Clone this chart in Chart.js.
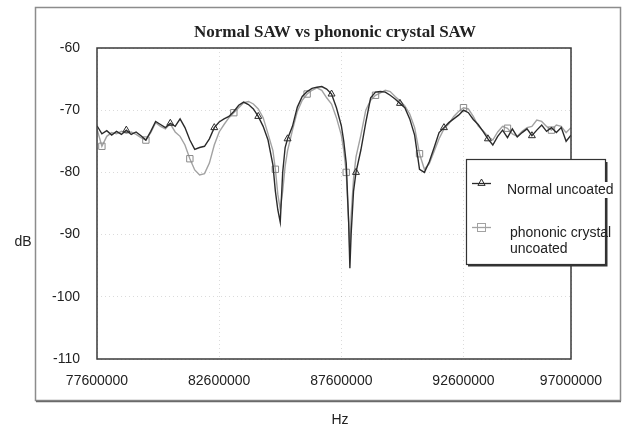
<!DOCTYPE html>
<html>
<head>
<meta charset="utf-8">
<script src="https://cdn.jsdelivr.net/npm/chart.js@4"></script>
<style>
  body { margin: 0; background: #fff; }
  #wrap { width: 623px; height: 425px; }
</style>
</head>
<body>
<div id="wrap"><canvas id="sawChart" width="623" height="425"></canvas></div>
<script>
// frequency in MHz, shared by both series
const freqMHz = [
  77.6, 77.8, 78.0, 78.2, 78.4, 78.6, 78.8, 79.0, 79.2, 79.4,
  79.6, 79.8, 80.0, 80.2, 80.4, 80.6, 80.8, 81.0, 81.2, 81.4,
  81.6, 81.8, 82.0, 82.2, 82.4, 82.6, 82.8, 83.0, 83.2, 83.4,
  83.6, 83.8, 84.0, 84.2, 84.4, 84.6, 84.8, 84.9, 85.0, 85.1,
  85.2, 85.3, 85.4, 85.6, 85.8, 86.0, 86.2, 86.4, 86.6, 86.8,
  87.0, 87.2, 87.4, 87.6, 87.7, 87.8, 87.9, 87.95, 88.0, 88.1,
  88.2, 88.4, 88.6, 88.8, 89.0, 89.2, 89.4, 89.6, 89.8, 90.0,
  90.2, 90.4, 90.6, 90.8, 91.0, 91.2, 91.4, 91.6, 91.8, 92.0,
  92.2, 92.4, 92.6, 92.8, 93.0, 93.2, 93.4, 93.6, 93.8, 94.0,
  94.2, 94.4, 94.6, 94.8, 95.0, 95.2, 95.4, 95.6, 95.8, 96.0,
  96.2, 96.4, 96.6, 96.8, 97.0
];

const normalDb = [
  -72.5, -73.8, -73.3, -74.0, -73.4, -73.9, -73.2, -73.9, -73.5, -74.1,
  -74.8, -73.4, -71.8, -72.3, -72.8, -72.1, -72.6, -71.4, -72.8, -74.8,
  -76.3, -76.0, -75.8, -74.6, -72.8, -71.9, -71.4, -71.0, -70.2, -69.2,
  -68.7, -69.1, -69.8, -71.0, -72.6, -74.8, -78.8, -83.0, -86.0, -88.0,
  -80.0, -76.0, -74.6, -72.6, -69.5, -67.8, -67.0, -66.5, -66.3, -66.2,
  -66.6, -67.4, -69.6, -72.5, -75.0, -78.5, -88.0, -95.4, -90.0, -83.0,
  -80.0, -76.4, -72.0, -68.0, -67.1, -67.0, -67.1, -67.6, -68.2, -68.9,
  -69.6, -71.4, -74.0, -79.5, -80.0, -78.3, -76.0, -73.6, -72.8, -72.0,
  -71.4, -70.8, -70.0, -70.4, -71.5, -72.3, -73.4, -74.6, -75.6, -74.2,
  -73.2, -74.4, -73.0, -74.3, -73.6, -73.0, -74.1, -73.2, -72.4, -73.4,
  -72.8, -73.6, -72.8, -75.0, -74.0
];

const phononicDb = [
  -73.0, -75.8, -74.2, -73.6, -73.8, -73.4, -73.7, -73.5, -73.9, -74.4,
  -74.8, -73.6, -72.0, -72.6, -73.0, -72.2, -73.5, -74.2, -75.6, -77.8,
  -79.6, -80.4, -80.2, -78.5, -75.6, -73.5, -72.3, -71.2, -70.4, -69.6,
  -68.8, -68.6, -69.0, -69.8, -71.2, -73.8, -76.5, -79.5, -83.5, -86.0,
  -83.0, -79.0, -76.5, -73.2, -70.2, -68.4, -67.4, -66.8, -66.4, -66.8,
  -68.0, -69.0, -71.2, -74.0, -76.5, -80.0, -88.0, -93.0, -87.0, -81.0,
  -77.5, -74.0, -70.0, -68.4, -67.6, -67.2, -66.8, -67.0, -67.8, -68.5,
  -69.3, -70.6, -72.8, -77.0, -79.5, -78.6, -76.6, -74.6, -73.0, -72.2,
  -71.0, -70.2, -69.6, -69.8, -71.0, -72.5, -73.3, -74.2, -74.8, -73.5,
  -72.6, -72.9, -73.8, -74.2, -73.4, -72.8, -72.6, -71.6, -71.8, -72.6,
  -73.2, -72.4, -72.6, -73.6, -72.8
];

const xTicks = [77600000, 82600000, 87600000, 92600000, 97000000];
const yTicks = [-60, -70, -80, -90, -100, -110];
const seriesNames = ['Normal uncoated', 'phononic crystal uncoated'];

const toPoints = vals => vals.map((v, i) => ({ x: Math.round(freqMHz[i] * 1e6), y: v }));

const NORMAL_COLOR = '#2b2b2b';
const PHONONIC_COLOR = '#a2a2a2';
const tickFont = { family: 'Liberation Sans, Arial, sans-serif', size: 14 };

function drawTriangle(ctx, x, y, r, color) {
  ctx.beginPath();
  ctx.moveTo(x, y - r);
  ctx.lineTo(x + r * 0.9, y + r * 0.6);
  ctx.lineTo(x - r * 0.9, y + r * 0.6);
  ctx.closePath();
  ctx.strokeStyle = color;
  ctx.stroke();
}

// frames, title, axis names and the boxed legend
const decorPlugin = {
  id: 'decor',
  beforeDraw(chart) {
    const ctx = chart.ctx;
    ctx.save();
    ctx.fillStyle = '#fff';
    ctx.fillRect(0, 0, chart.width, chart.height);
    ctx.strokeStyle = '#8c8c8c';
    ctx.lineWidth = 1.5;
    ctx.strokeRect(35.5, 7.5, 585, 393);
    ctx.strokeStyle = '#6a6a6a';
    ctx.beginPath();
    ctx.moveTo(36, 401.5);
    ctx.lineTo(621, 401.5);
    ctx.stroke();
    ctx.restore();
  },
  afterDraw(chart) {
    const ctx = chart.ctx;
    const a = chart.chartArea;
    ctx.save();
    ctx.strokeStyle = '#3a3a3a';
    ctx.lineWidth = 1.5;
    ctx.strokeRect(a.left, a.top, a.right - a.left, a.bottom - a.top);

    ctx.fillStyle = '#222';
    ctx.textAlign = 'center';
    ctx.textBaseline = 'middle';
    ctx.font = 'bold 17px "Liberation Serif", "Times New Roman", serif';
    ctx.fillText('Normal SAW vs phononic crystal SAW', 335, 33);
    ctx.font = '14px "Liberation Sans", Arial, sans-serif';
    ctx.fillText('dB', 23, 242);
    ctx.fillText('Hz', 340, 420);

    // legend box
    const lx = 466, ly = 159, lw = 139, lh = 105;
    ctx.fillStyle = '#fff';
    ctx.fillRect(lx, ly, lw, lh);
    ctx.lineWidth = 1.2;
    ctx.strokeStyle = '#333';
    ctx.strokeRect(lx + 0.5, ly + 0.5, lw, lh);
    ctx.lineWidth = 2;
    ctx.beginPath();
    ctx.moveTo(lx + 2, ly + lh + 1.5);
    ctx.lineTo(lx + lw + 1.5, ly + lh + 1.5);
    ctx.lineTo(lx + lw + 1.5, ly + 3);
    ctx.stroke();

    // swatch: normal
    ctx.lineWidth = 1.3;
    ctx.strokeStyle = NORMAL_COLOR;
    ctx.beginPath();
    ctx.moveTo(472, 183.5);
    ctx.lineTo(491, 183.5);
    ctx.stroke();
    ctx.lineWidth = 1;
    drawTriangle(ctx, 481.5, 183, 4, NORMAL_COLOR);

    // swatch: phononic
    ctx.lineWidth = 1.3;
    ctx.strokeStyle = PHONONIC_COLOR;
    ctx.beginPath();
    ctx.moveTo(472, 227.5);
    ctx.lineTo(491, 227.5);
    ctx.stroke();
    ctx.lineWidth = 1;
    ctx.strokeRect(477.5, 223.5, 8, 8);

    ctx.font = '14px "Liberation Sans", Arial, sans-serif';
    ctx.textAlign = 'left';
    ctx.fillStyle = '#222';
    const name1 = seriesNames[0];
    const w1 = ctx.measureText(name1).width;
    ctx.fillStyle = '#fff';
    ctx.fillRect(506, 182, w1 + 2, 16);
    ctx.fillStyle = '#222';
    ctx.fillText(name1, 507, 190);
    const parts = seriesNames[1].split(' ');
    ctx.fillText(parts[0] + ' ' + parts[1], 510, 233);
    ctx.fillText(parts[2], 510, 249);
    ctx.restore();
  }
};

const pointEvery = 9;

const ctx = document.getElementById('sawChart').getContext('2d');
const sawChart = new Chart(ctx, {
  type: 'line',
  data: {
    datasets: [{
      label: seriesNames[0],
      data: toPoints(normalDb),
      borderColor: NORMAL_COLOR,
      borderWidth: 1.4,
      pointStyle: 'triangle',
      pointRadius: c => (c.dataIndex % pointEvery === 6 ? 4 : 0),
      pointBorderColor: NORMAL_COLOR,
      pointBackgroundColor: 'rgba(255,255,255,0)',
      pointBorderWidth: 1,
      tension: 0
    }, {
      label: seriesNames[1],
      data: toPoints(phononicDb),
      borderColor: PHONONIC_COLOR,
      borderWidth: 1.4,
      pointStyle: 'rect',
      pointRadius: c => (c.dataIndex % pointEvery === 1 ? 4.5 : 0),
      pointBorderColor: '#8a8a8a',
      pointBackgroundColor: 'rgba(255,255,255,0)',
      pointBorderWidth: 1,
      tension: 0
    }]
  },
  options: {
    responsive: false,
    animation: false,
    events: [],
    layout: { padding: { top: 48, right: 52, left: 0, bottom: 0 } },
    plugins: {
      legend: { display: false },
      title: { display: false },
      tooltip: { enabled: false }
    },
    scales: {
      x: {
        type: 'linear',
        min: xTicks[0],
        max: xTicks[xTicks.length - 1],
        afterBuildTicks: s => { s.ticks = xTicks.map(v => ({ value: v })); },
        afterFit: s => { s.height = 66; },
        grid: { color: 'rgba(0,0,0,0.14)', drawTicks: false },
        border: { display: false, dash: [1, 3] },
        ticks: {
          padding: 14,
          color: '#222',
          font: tickFont,
          maxRotation: 0,
          autoSkip: false,
          callback: v => String(v)
        }
      },
      y: {
        min: yTicks[yTicks.length - 1],
        max: yTicks[0],
        afterBuildTicks: s => { s.ticks = yTicks.map(v => ({ value: v })); },
        afterFit: s => { s.width = 97; },
        grid: { color: 'rgba(0,0,0,0.14)', drawTicks: false },
        border: { display: false, dash: [1, 3] },
        ticks: {
          padding: 17,
          color: '#222',
          font: tickFont,
          callback: v => String(v)
        }
      }
    }
  },
  plugins: [decorPlugin]
});
</script>
</body>
</html>
